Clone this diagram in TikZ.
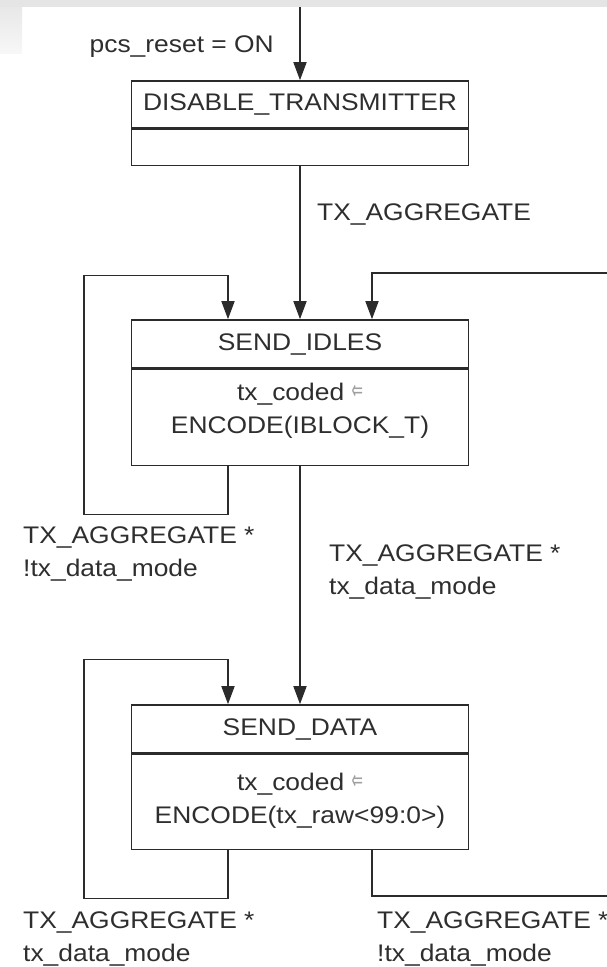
\documentclass[tikz,border=0pt]{standalone}
\usepackage{fontspec}
\setmainfont{Liberation Sans}[FakeStretch=1.1]
\newfontfamily\symfont{DejaVu Sans}
\usetikzlibrary{arrows.meta,calc}
\definecolor{ln}{HTML}{2B2B2B}
\definecolor{tx}{HTML}{2E2E2E}
\newcommand{\asg}{{\symfont\fontsize{17}{17}\selectfont\color{gray!75}\raisebox{1pt}{\scalebox{0.8}[1.6]{⇐}}}}
\begin{document}
\begin{tikzpicture}[x=1pt,y=-1pt,
  every node/.style={font=\fontsize{24}{33}\selectfont, text=tx},
  conn/.style={draw=ln, line width=1.6pt},
  arr/.style={conn, -{Triangle[length=18pt,width=13pt]}},
  hdr/.style={draw=ln, line width=1.6pt, minimum width=337pt, inner sep=0pt, rectangle},
  lbl/.style={align=left, anchor=west, inner sep=0pt},
  body/.style={align=center, inner sep=0pt}]
\useasboundingbox (0,0) rectangle (607,967);
\fill[gray!20] (0,0) rectangle (607,7);
\shade[top color=gray!18, bottom color=gray!6] (0,7) rectangle (22,53);

% states
\node[hdr, minimum height=47pt] (dt) at (300,104.5) {DISABLE\_TRANSMITTER};
\node[hdr, minimum height=36pt, anchor=north] (dtb) at (dt.south) {};

\node[hdr, minimum height=48pt] (si) at (300,344) {SEND\_IDLES};
\node[hdr, minimum height=96pt, anchor=north] (sib) at (si.south) {};
\node[body] (sit) at (300,411) {tx\_coded \asg\\ENCODE(IBLOCK\_T)};

\node[hdr, minimum height=48pt] (sd) at (300,729) {SEND\_DATA};
\node[hdr, minimum height=95pt, anchor=north] (sdb) at (sd.south) {};
\node[body] (sdt) at (300,801) {tx\_coded \asg\\ENCODE(tx\_raw<99:0>)};

% entry
\coordinate (start) at (300,7);
\draw[arr] (start) -- (dt.north);
\node[anchor=east, inner sep=0pt] (lreset) at (274,47) {pcs\_reset = ON};

% DISABLE -> SEND_IDLES
\draw[arr] (dtb.south) -- (si.north);
\node[anchor=west, inner sep=0pt] (lagg) at (317,215) {TX\_AGGREGATE};

% SEND_IDLES self loop
\draw[arr] ([xshift=-72pt]sib.south) -- ++(0,48) -- ++(-144,0) -- ++(0,-239) -- ++(144,0) -- ([xshift=-72pt]si.north);
\node[lbl] (l1) at (23,553.5) {TX\_AGGREGATE *\\!tx\_data\_mode};

% SEND_IDLES -> SEND_DATA
\draw[arr] (sib.south) -- (sd.north);
\node[lbl] (l2) at (329,571.5) {TX\_AGGREGATE *\\tx\_data\_mode};

% SEND_DATA self loop
\draw[arr] ([xshift=-72pt]sdb.south) -- ++(0,48) -- ++(-144,0) -- ++(0,-239) -- ++(144,0) -- ([xshift=-72pt]sd.north);
\node[lbl] (l3) at (23,938.5) {TX\_AGGREGATE *\\tx\_data\_mode};

% SEND_DATA -> SEND_IDLES (around the right)
\coordinate (rout) at (612,896);
\coordinate (rin) at (612,273);
\draw[conn] ([xshift=72pt]sdb.south) |- (rout);
\draw[arr] (rin) -| ([xshift=72pt]si.north);
\node[lbl] (l4) at (377,938.5) {TX\_AGGREGATE *\\!tx\_data\_mode};
\end{tikzpicture}
\end{document}
